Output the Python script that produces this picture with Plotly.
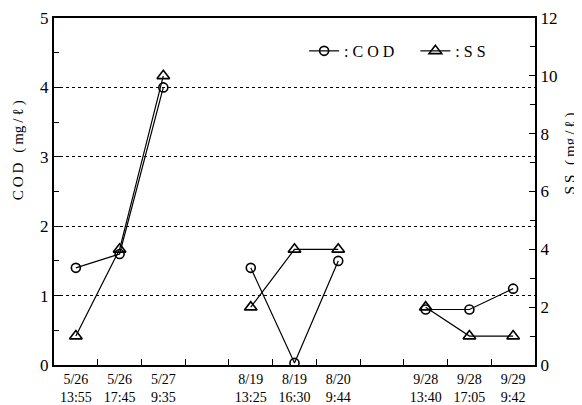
import plotly.graph_objects as go

# ---- data ----
dates = ["5/26", "5/26", "5/27", "8/19", "8/19", "8/20", "9/28", "9/28", "9/29"]
times = ["13:55", "17:45", "9:35", "13:25", "16:30", "9:44", "13:40", "17:05", "9:42"]
cod = [1.4, 1.6, 4.0, 1.4, 0.03, 1.5, 0.8, 0.8, 1.1]   # mg/l (left axis)
ss = [1.0, 4.0, 10.0, 2.0, 4.0, 4.0, 2.0, 1.0, 1.0]    # mg/l (right axis)
group_size = 3

# build categories with blank spacer slots between sampling campaigns
cats, cod_y, ss_y = [], [], []
for i, (d, t) in enumerate(zip(dates, times)):
    if i > 0 and i % group_size == 0:
        spacer = " " * (i // group_size)
        cats.append(spacer)
        cod_y.append(None)
        ss_y.append(None)
    cats.append(f"{d}<br>{t}")
    cod_y.append(cod[i])
    ss_y.append(ss[i])

FONT = "Liberation Serif"
T = "\u2009"   # thin space for the wide-set lettering
NB = "\u00a0"  # non-breaking space

fig = go.Figure()
fig.add_trace(go.Scatter(
    x=cats, y=cod_y, name=f":{NB}C{NB}O{NB}D{NB*4}", mode="lines+markers",
    line=dict(color="black", width=1.2),
    marker=dict(symbol="circle-open", size=9, color="black", line=dict(width=1.6)),
    connectgaps=False,
))
fig.add_trace(go.Scatter(
    x=cats, y=ss_y, name=f":{NB}S{NB}S", mode="lines+markers", yaxis="y2",
    line=dict(color="black", width=1.2),
    marker=dict(symbol="triangle-up-open", size=11, color="black", line=dict(width=1.6)),
    connectgaps=False,
))

# page body has an 8px margin, so the figure is sized to fit the 582x405 window
fig.update_layout(
    width=574, height=397,
    margin=dict(l=46, r=47, t=10, b=40),
    paper_bgcolor="white", plot_bgcolor="white",
    font=dict(family=FONT, color="black", size=15),
    showlegend=True,
    legend=dict(orientation="h", x=0.52, y=0.905, xanchor="left", yanchor="middle",
                bgcolor="rgba(0,0,0,0)", font=dict(size=16, family=FONT),
                itemwidth=30, tracegroupgap=0),
    xaxis=dict(
        type="category", categoryorder="array", categoryarray=cats,
        range=[-0.5, len(cats) - 0.5],
        tickson="boundaries", ticks="inside", ticklen=6, tickcolor="black",
        showline=True, linecolor="black", linewidth=2, mirror=True,
        showgrid=False, tickangle=0, automargin=False,
        tickfont=dict(size=14, family=FONT),
    ),
    yaxis=dict(
        range=[0, 5], dtick=1, ticks="inside", ticklen=6, tickcolor="black",
        minor=dict(dtick=0.5, ticks="inside", ticklen=5, tickcolor="black", showgrid=False),
        showline=True, linecolor="black", linewidth=2,
        showgrid=True, gridcolor="black", gridwidth=1, griddash="dot",
        zeroline=False, automargin=False, tickfont=dict(size=17, family=FONT),
    ),
    yaxis2=dict(
        range=[0, 12], dtick=2, overlaying="y", side="right",
        ticks="inside", ticklen=6, tickcolor="black",
        minor=dict(dtick=1, ticks="inside", ticklen=5, tickcolor="black", showgrid=False),
        showline=True, linecolor="black", linewidth=2,
        showgrid=False, zeroline=False, automargin=False,
        tickfont=dict(size=17, family=FONT),
    ),
    annotations=[
        dict(text=f"C{T}O{T}D{T} {T}({T}mg{T}/{T}ℓ{T})", textangle=-90,
             xref="paper", yref="paper", x=-0.074, y=0.62,
             xanchor="center", yanchor="middle", showarrow=False,
             font=dict(size=15, family=FONT)),
        dict(text=f"S{T}S{T} {T}({T}mg{T}/{T}ℓ{T})", textangle=-90,
             xref="paper", yref="paper", x=1.073, y=0.61,
             xanchor="center", yanchor="middle", showarrow=False,
             font=dict(size=15, family=FONT)),
    ],
)

fig.write_html("out.html")
